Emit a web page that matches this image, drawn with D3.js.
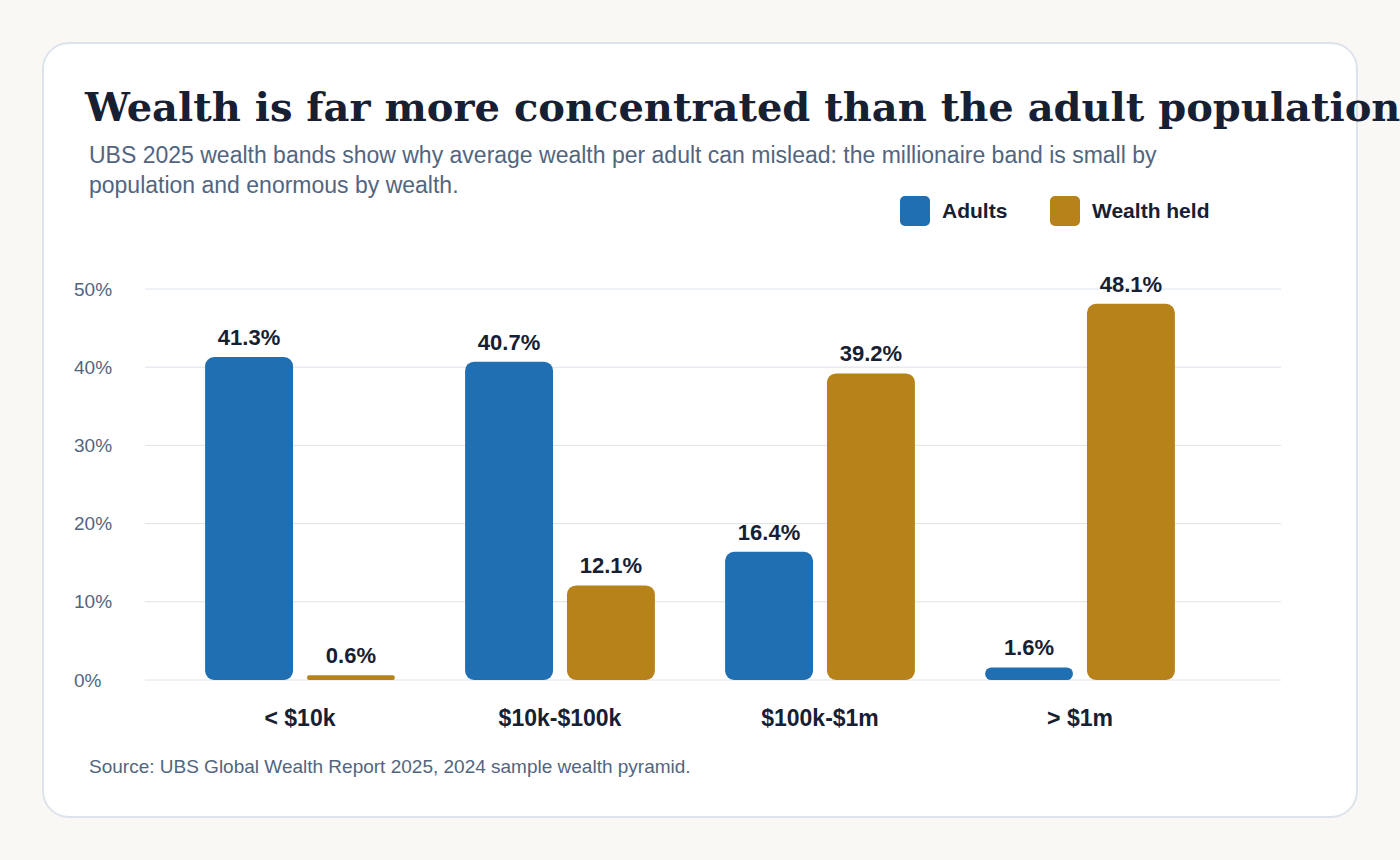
<!DOCTYPE html>
<html>
<head>
<meta charset="utf-8">
<script src="https://cdn.jsdelivr.net/npm/d3@7"></script>
<style>
  body { margin: 0; background: #f9f8f5; }
  svg { display: block; }
</style>
</head>
<body>
<svg id="chart" width="1400" height="860"></svg>
<script>
// wealth bands (UBS 2025)
const categories = ["< $10k", "$10k-$100k", "$100k-$1m", "> $1m"];
const adults = [41.3, 40.7, 16.4, 1.6];
const wealthHeld = [0.6, 12.1, 39.2, 48.1];
const seriesNames = ["Adults", "Wealth held"];
const yTicks = [0, 10, 20, 30, 40, 50];

const colors = { "Adults": "#1f6fb2", "Wealth held": "#b8821a" };
const ink = "#172033", muted = "#52657f", grid = "#dde3ea";

const rows = categories.map(function(c, i) {
    return { cat: c, values: [
        { key: "Adults", value: adults[i] },
        { key: "Wealth held", value: wealthHeld[i] }
    ]};
});

const svg = d3.select("#chart");

// card
svg.append("rect")
    .attr("x", 43).attr("y", 43)
    .attr("width", 1314).attr("height", 774)
    .attr("rx", 26)
    .style("fill", "#ffffff")
    .style("stroke", grid)
    .style("stroke-width", 2);

svg.append("text")
    .attr("x", 85).attr("y", 121)
    .text("Wealth is far more concentrated than the adult population")
    .style("font-family", "Georgia, 'DejaVu Serif', serif")
    .style("font-weight", "bold")
    .style("font-size", "40px")
    .style("fill", ink);

const sub = svg.append("text")
    .style("font-family", "'Liberation Sans', Arial, sans-serif")
    .style("font-size", "23px")
    .style("fill", muted);
sub.append("tspan").attr("x", 89).attr("y", 163)
    .text("UBS 2025 wealth bands show why average wealth per adult can mislead: the millionaire band is small by");
sub.append("tspan").attr("x", 89).attr("y", 193)
    .text("population and enormous by wealth.");

// legend
var legend = svg.selectAll("g.legend")
    .data(seriesNames)
    .enter()
    .append("g")
    .attr("class", "legend")
    .attr("transform", function(d, i) { return "translate(" + (900 + i * 150) + ",196)"; });

legend.append("rect")
    .attr("width", 30).attr("height", 30).attr("rx", 5)
    .style("fill", function(d) { return colors[d]; });

legend.append("text")
    .attr("x", 42).attr("y", 22)
    .text(function(d) { return d; })
    .style("font-family", "'Liberation Sans', Arial, sans-serif")
    .style("font-weight", "bold")
    .style("font-size", "21px")
    .style("fill", ink);

// scales
const y = d3.scaleLinear().domain([0, 50]).range([680, 289]);
const x0 = d3.scaleBand().domain(categories).range([170, 1210])
    .paddingInner(0.27).paddingOuter(0.135);
const x1 = d3.scaleBand().domain(seriesNames).range([0, x0.bandwidth()])
    .paddingInner(0.137);

// gridlines
svg.append("g").selectAll("line")
    .data(yTicks)
    .enter()
    .append("line")
    .attr("x1", 145).attr("x2", 1281)
    .attr("y1", function(d) { return y(d); })
    .attr("y2", function(d) { return y(d); })
    .style("stroke", grid)
    .style("stroke-width", 1);

// y axis labels
var yAxis = svg.append("g")
    .attr("transform", "translate(74,0)")
    .call(d3.axisLeft(y).tickValues(yTicks).tickSize(0).tickFormat(function(d) { return d + "%"; }));
yAxis.select(".domain").remove();
yAxis.selectAll("text")
    .attr("x", 0)
    .attr("text-anchor", "start")
    .style("font-family", "'Liberation Sans', Arial, sans-serif")
    .style("font-size", "19px")
    .style("fill", muted);

// x axis labels
var xAxis = svg.append("g")
    .attr("transform", "translate(0,680)")
    .call(d3.axisBottom(x0).tickSize(0));
xAxis.select(".domain").remove();
xAxis.selectAll("text")
    .attr("y", 46).attr("dy", 0)
    .style("font-family", "'Liberation Sans', Arial, sans-serif")
    .style("font-weight", "bold")
    .style("font-size", "23px")
    .style("fill", ink);

// bars
var groups = svg.selectAll("g.band")
    .data(rows)
    .enter()
    .append("g")
    .attr("class", "band")
    .attr("transform", function(d) { return "translate(" + x0(d.cat) + ",0)"; });

groups.selectAll("rect")
    .data(function(d) { return d.values; })
    .enter()
    .append("rect")
    .attr("x", function(d) { return x1(d.key); })
    .attr("y", function(d) { return y(d.value); })
    .attr("width", x1.bandwidth())
    .attr("height", function(d) { return y(0) - y(d.value); })
    .attr("rx", function(d) { return Math.min(9, (y(0) - y(d.value)) / 2); })
    .style("fill", function(d) { return colors[d.key]; });

groups.selectAll("text")
    .data(function(d) { return d.values; })
    .enter()
    .append("text")
    .attr("x", function(d) { return x1(d.key) + x1.bandwidth() / 2; })
    .attr("y", function(d) { return y(d.value) - 12; })
    .attr("text-anchor", "middle")
    .text(function(d) { return d.value.toFixed(1) + "%"; })
    .style("font-family", "'Liberation Sans', Arial, sans-serif")
    .style("font-weight", "bold")
    .style("font-size", "22px")
    .style("fill", ink);

svg.append("text")
    .attr("x", 89).attr("y", 773)
    .text("Source: UBS Global Wealth Report 2025, 2024 sample wealth pyramid.")
    .style("font-family", "'Liberation Sans', Arial, sans-serif")
    .style("font-size", "19px")
    .style("fill", muted);
</script>
</body>
</html>
